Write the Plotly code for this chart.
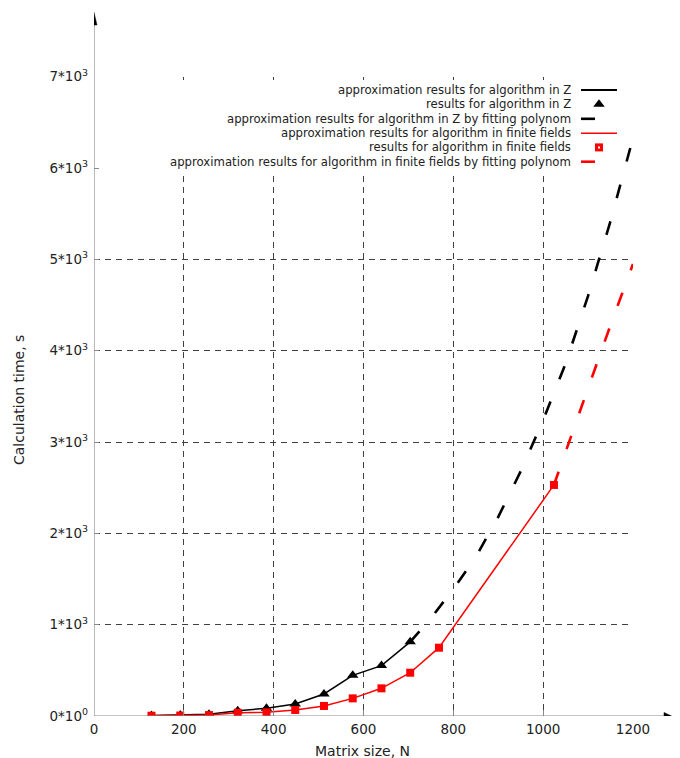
import plotly.graph_objects as go

# ---------------- data ----------------
N_Z = [128, 192, 256, 320, 384, 448, 512, 576, 640, 704]
t_Z = [6, 10, 20, 58, 84, 131, 241, 445, 552, 812]

N_F = [128, 192, 256, 320, 384, 448, 512, 576, 640, 704, 768, 1024]
t_F = [3, 5, 10, 36, 40, 66, 110, 193, 303, 474, 748, 2530]

N_fitZ = [704, 750, 800, 850, 900, 950, 1000, 1050, 1100, 1150, 1200]
t_fitZ = [812, 1070, 1390, 1740, 2180, 2680, 3240, 3860, 4600, 5420, 6330]

N_fitF = [1024, 1050, 1100, 1150, 1200]
t_fitF = [2530, 2900, 3590, 4280, 4950]

x_ticks = [0, 200, 400, 600, 800, 1000, 1200]
y_ticks = [0, 1000, 2000, 3000, 4000, 5000, 6000, 7000]
y_ticktext = ["0*10<sup>0</sup>", "1*10<sup>3</sup>", "2*10<sup>3</sup>", "3*10<sup>3</sup>",
              "4*10<sup>3</sup>", "5*10<sup>3</sup>", "6*10<sup>3</sup>", "7*10<sup>3</sup>"]

legend_labels = [
    "approximation results for algorithm in Z",
    "results for algorithm in Z",
    "approximation results for algorithm in Z by fitting polynom",
    "approximation results for algorithm in finite fields",
    "results for algorithm in finite fields",
    "approximation results for algorithm in finite fields by fitting polynom",
]

x_title = "Matrix size, N"
y_title = "Calculation time, s"

# ---------------- layout geometry (screen pixels; page has an 8px body offset) ----------------
OFF = 8                      # body margin of the page
SX0, SX1 = 94, 672           # screen x of plot-area left / right
SY0, SY1 = 12, 716           # screen y of plot-area top / bottom
W = SX1 - OFF                # figure width  (664)
H = 758 - OFF                # figure height (750)
L, R = SX0 - OFF, 0
T, B = SY0 - OFF, H - (SY1 - OFF)
PW, PH = SX1 - SX0, SY1 - SY0
X_END_PX = 633               # screen x of N = 1200
Y_TOP_PX = 76.7              # screen y of t = 7000

FONT = "DejaVu Sans"
AXIS_GREY = "#8a8a8a"
GRID = "#404040"
RED = "#ff0000"
TXT = "#222222"


def px(sx):
    return (sx - SX0) / PW


def py(sy):
    return (SY1 - sy) / PH


fig = go.Figure()

# main data traces
fig.add_trace(go.Scatter(x=N_Z, y=t_Z, mode="lines",
                         line=dict(color="black", width=1.5), showlegend=False))
fig.add_trace(go.Scatter(x=N_Z, y=t_Z, mode="markers",
                         marker=dict(symbol="triangle-up", size=10, color="black"),
                         showlegend=False))
fig.add_trace(go.Scatter(x=N_fitZ, y=t_fitZ, mode="lines",
                         line=dict(color="black", width=2.6, dash="14px,24px"),
                         showlegend=False))
fig.add_trace(go.Scatter(x=N_F, y=t_F, mode="lines",
                         line=dict(color=RED, width=1.5), showlegend=False))
fig.add_trace(go.Scatter(x=N_F, y=t_F, mode="markers",
                         marker=dict(symbol="square", size=8, color=RED),
                         showlegend=False))
fig.add_trace(go.Scatter(x=N_fitF, y=t_fitF, mode="lines",
                         line=dict(color=RED, width=2.6, dash="14px,24px"),
                         showlegend=False))

# ---------------- custom legend (symbols on the right, as in gnuplot) ----------------
row_y = [90, 104.3, 118.8, 133.2, 147.4, 161.7]
text_right = 573
sample_l, sample_r, sample_mid, dash_r = 581, 617, 599, 595

leg_style = [
    ("line", "black", 1.8),
    ("tri", "black", None),
    ("dash", "black", 2.6),
    ("line", RED, 1.5),
    ("sq", RED, None),
    ("dash", RED, 2.6),
]
for (kind, col, w), yy in zip(leg_style, row_y):
    if kind in ("line", "dash"):
        xr = sample_r if kind == "line" else dash_r
        fig.add_trace(go.Scatter(x=[sample_l, xr], y=[yy, yy], mode="lines",
                                 line=dict(color=col, width=w), xaxis="x2", yaxis="y2",
                                 showlegend=False, hoverinfo="skip"))
    elif kind == "tri":
        fig.add_trace(go.Scatter(x=[sample_mid], y=[yy], mode="markers",
                                 marker=dict(symbol="triangle-up", size=10, color=col),
                                 xaxis="x2", yaxis="y2", showlegend=False, hoverinfo="skip"))
    else:
        fig.add_trace(go.Scatter(x=[sample_mid], y=[yy], mode="markers",
                                 marker=dict(symbol="square", size=8, color=col),
                                 xaxis="x2", yaxis="y2", showlegend=False, hoverinfo="skip"))
        fig.add_trace(go.Scatter(x=[sample_mid], y=[yy], mode="markers",
                                 marker=dict(symbol="square", size=2, color="white"),
                                 xaxis="x2", yaxis="y2", showlegend=False, hoverinfo="skip"))

annotations = []
for lab, yy in zip(legend_labels, row_y):
    annotations.append(dict(text=lab, x=px(text_right), y=py(yy), xref="paper", yref="paper",
                            xanchor="right", yanchor="middle", showarrow=False,
                            font=dict(family=FONT, size=11.7, color=TXT)))

annotations.append(dict(text=x_title, x=px(362), y=py(751), xref="paper", yref="paper",
                        xanchor="center", yanchor="middle", showarrow=False,
                        font=dict(family=FONT, size=14, color=TXT)))
annotations.append(dict(text=y_title, x=px(19), y=py(400), xref="paper", yref="paper",
                        xanchor="center", yanchor="middle", showarrow=False, textangle=-90,
                        font=dict(family=FONT, size=14, color=TXT)))

shapes = [
    # opaque key box (hides grid under the legend)
    dict(type="rect", xref="x", yref="y", x0=1, x1=1189, y0=5957, y1=6964,
         fillcolor="white", line=dict(width=0), layer="between"),
    # axis lines with arrow heads (screen-pixel coordinates on the overlay axes)
    dict(type="line", xref="x2", yref="y2", x0=SX0, x1=665, y0=SY1, y1=SY1,
         line=dict(color=AXIS_GREY, width=1.2), layer="above"),
    dict(type="path", xref="x2", yref="y2", path="M 664,712.5 L 671.5,716 L 664,719.5 Z",
         fillcolor="black", line=dict(color="black", width=0.5), layer="above"),
    dict(type="line", xref="x2", yref="y2", x0=SX0, x1=SX0, y0=SY1, y1=24,
         line=dict(color=AXIS_GREY, width=1.2), layer="above"),
    dict(type="path", xref="x2", yref="y2", path="M 91,25 L 94,12.5 L 97,25 Z",
         fillcolor="black", line=dict(color="black", width=0.5), layer="above"),
]

fig.update_layout(
    width=W, height=H,
    margin=dict(l=L, r=R, t=T, b=B, pad=0, autoexpand=False),
    paper_bgcolor="white", plot_bgcolor="rgba(0,0,0,0)",
    showlegend=False,
    font=dict(family=FONT, size=13.5, color=TXT),
    xaxis=dict(domain=[0, (X_END_PX - SX0) / PW], range=[0, 1200], anchor="y",
               tickvals=x_ticks, ticktext=[str(v) for v in x_ticks],
               showgrid=True, gridcolor=GRID, gridwidth=1, griddash="6px,5px",
               zeroline=False, showline=False, automargin=False,
               ticks="inside", ticklen=6, tickcolor=AXIS_GREY, tickwidth=1,
               ticklabelstandoff=3,
               tickfont=dict(family=FONT, size=13.5, color=TXT)),
    yaxis=dict(domain=[0, (SY1 - Y_TOP_PX) / PH], range=[0, 7000], anchor="x",
               tickvals=y_ticks, ticktext=y_ticktext,
               showgrid=True, gridcolor=GRID, gridwidth=1, griddash="6px,5px",
               zeroline=False, showline=False, automargin=False,
               ticks="inside", ticklen=5, tickcolor=AXIS_GREY, tickwidth=1,
               ticklabelstandoff=5,
               tickfont=dict(family=FONT, size=13.5, color=TXT)),
    xaxis2=dict(domain=[0, 1], range=[SX0, SX1], anchor="y2", visible=False,
                fixedrange=True, automargin=False),
    yaxis2=dict(domain=[0, 1], range=[SY1, SY0], anchor="x2", visible=False,
                fixedrange=True, automargin=False),
    shapes=shapes,
    annotations=annotations,
)

fig.write_html("out.html")
